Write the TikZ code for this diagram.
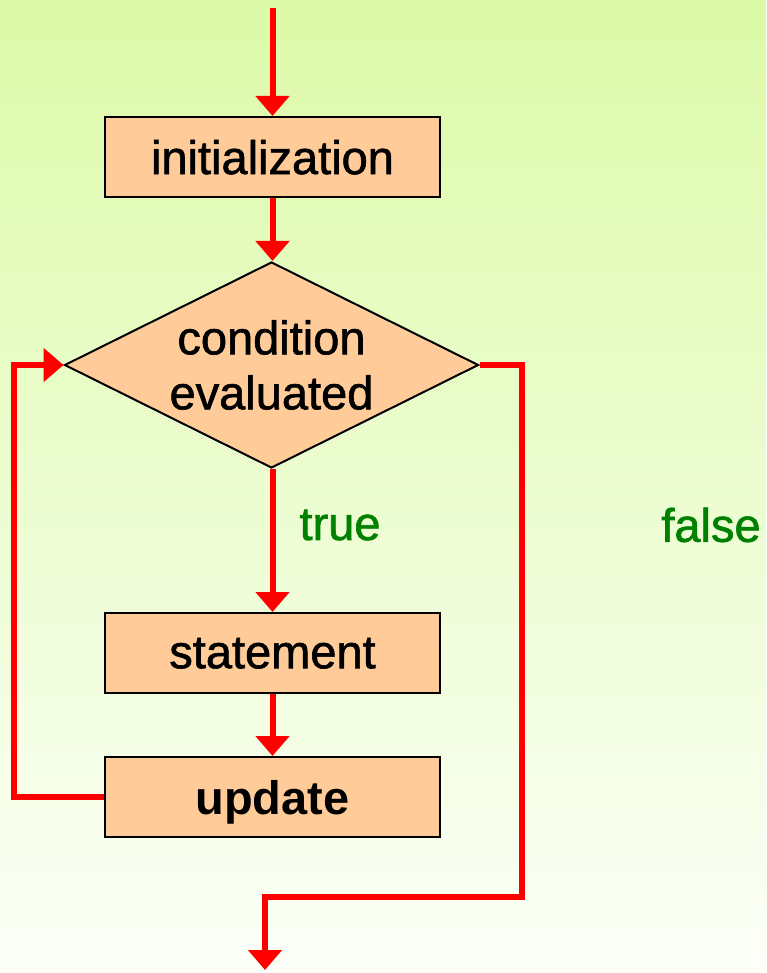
\documentclass[tikz,border=0pt]{standalone}
\usepackage{fontspec}
\setmainfont{Liberation Sans}
\newfontfamily\heavysans[FakeBold=1.3]{Liberation Sans}
\usetikzlibrary{arrows.meta,shapes.geometric}
\definecolor{bgtop}{RGB}{220,250,168}
\definecolor{bgbottom}{RGB}{252,255,248}
\definecolor{peach}{RGB}{255,204,153}
\definecolor{flowred}{RGB}{255,0,0}
\definecolor{labelgreen}{RGB}{0,128,0}
\begin{document}
\begin{tikzpicture}[x=1pt,y=-1pt,
  bigtext/.style={font=\heavysans\fontsize{47}{55}\selectfont},
  stepbox/.style={draw=black,line width=2pt,fill=peach,minimum width=335pt,
    minimum height=80pt,inner sep=0pt,text depth=0pt,bigtext},
  decision/.style={diamond,draw=black,line width=2pt,fill=peach,
    minimum width=414pt,minimum height=206pt,inner sep=0pt},
  flow/.style={draw=flowred,line width=6pt,-{Triangle[length=20pt,width=33pt]}},
  caption/.style={bigtext,text=labelgreen}]
  % page and background
  \useasboundingbox (0,0) rectangle (766,973);
  \shade[top color=bgtop,bottom color=bgbottom] (0,0) rectangle (766,973);

  % flowchart nodes
  \node[stepbox] (init) at (272.5,157) {initialization};
  \node[decision] (cond) at (271.5,365) {};
  \node[bigtext,align=center,inner sep=0pt] (condtext) at (cond.center) {condition\\evaluated};
  \node[stepbox] (stmt) at (272.5,653) {statement};
  \node[stepbox,font=\bfseries\fontsize{47}{55}\selectfont] (upd) at (272.5,797) {update};

  % branch labels
  \node[caption] (truelbl) at (340,525) {true};
  \node[caption] (falselbl) at (711,525) {false};

  % loose ends of the flow
  \coordinate (start) at (272.5,8);
  \coordinate (exit) at (265,970);

  % connectors
  \draw[flow] (start) -- (init.north);
  \draw[flow] (init.south) -- (init.south |- cond.north);
  \draw[flow] (stmt.north |- cond.south) -- (stmt.north);
  \draw[flow] (stmt.south) -- (upd.north);
  \draw[flow] (upd.west) -- ++(-90,0) |- (cond.west);
  \draw[flow] (cond.east) -- ++(42,0) -- ++(0,532) -| (exit);
\end{tikzpicture}
\end{document}
